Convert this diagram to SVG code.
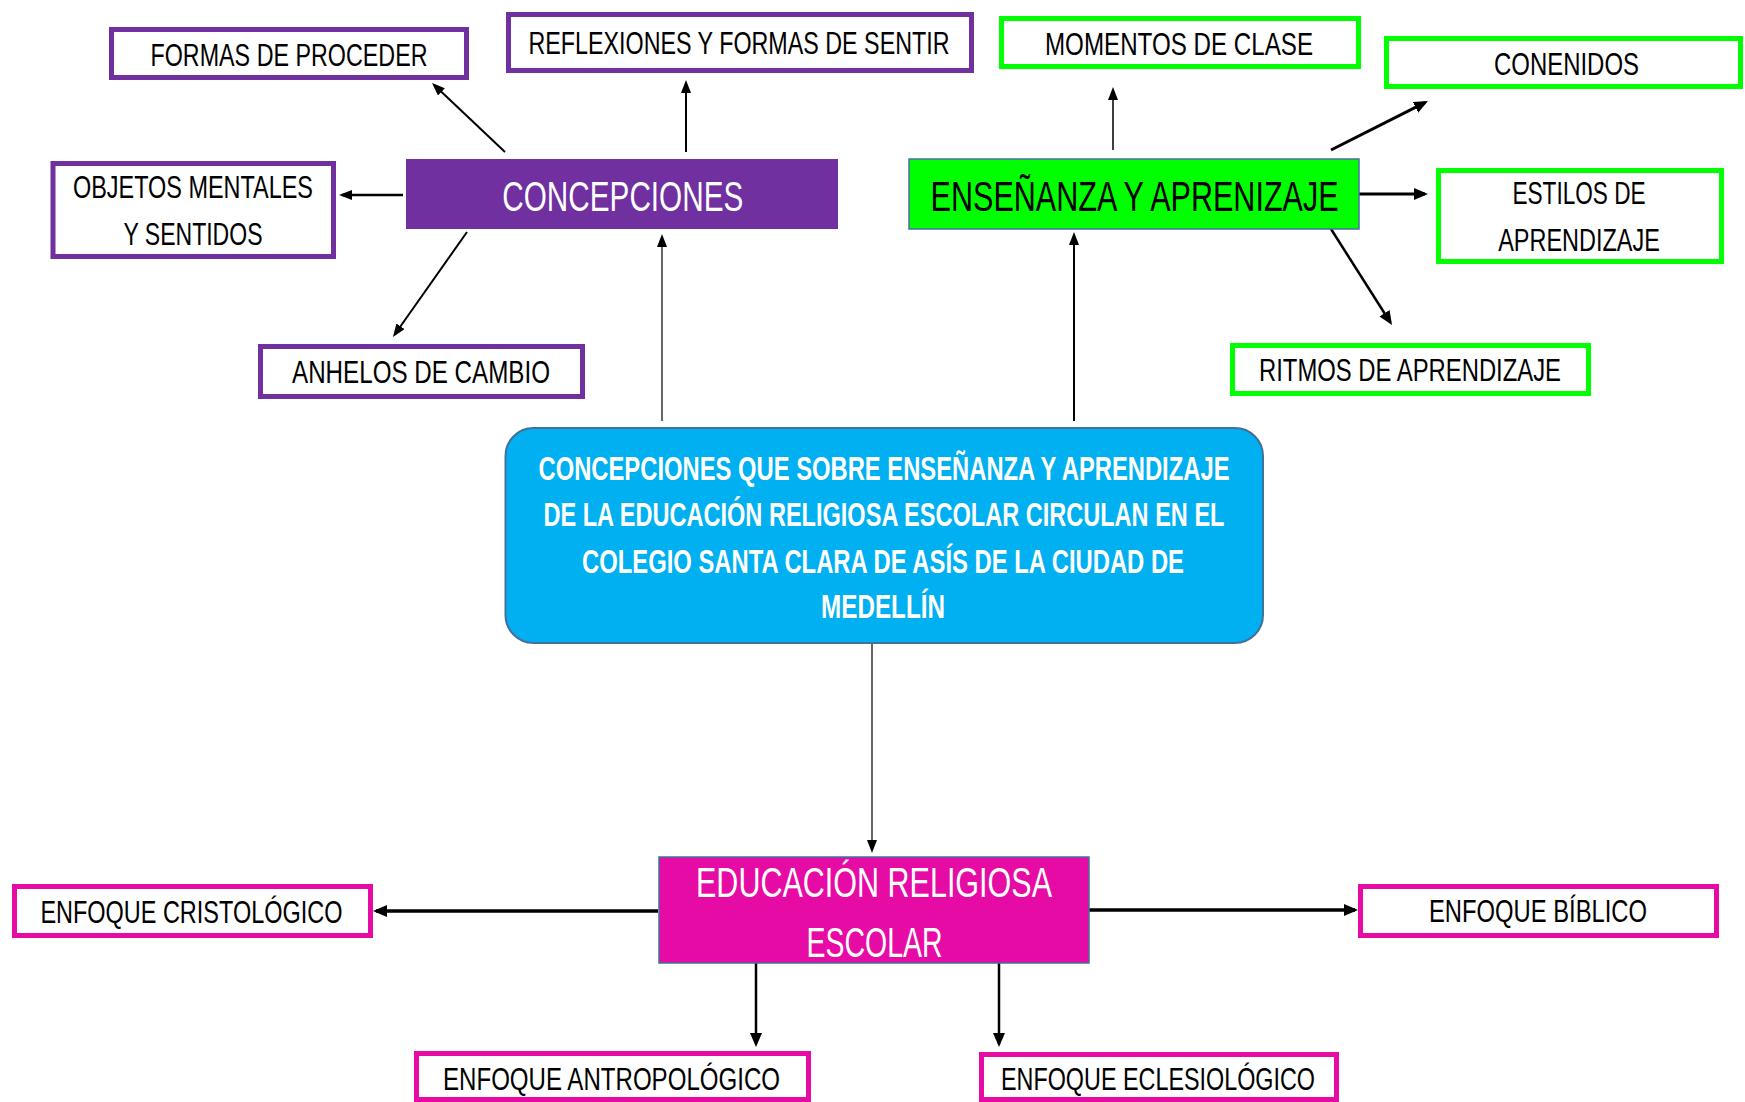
<svg xmlns="http://www.w3.org/2000/svg" width="1745" height="1102" viewBox="0 0 1745 1102">
<style>
.t{font-family:"Liberation Sans",Arial,sans-serif;font-size:32px;fill:#000;text-anchor:middle}
.big{font-family:"Liberation Sans",Arial,sans-serif;font-size:42px;text-anchor:middle}
.ctr{font-family:"Liberation Sans",Arial,sans-serif;font-size:33px;font-weight:bold;fill:#fff;text-anchor:middle}
.pb{fill:#fff;stroke:#7030a0;stroke-width:5}
.gb{fill:#fff;stroke:#00ff00;stroke-width:5}
.kb{fill:#fff;stroke:#e70ba6;stroke-width:5}
.c{stroke:#000;fill:none}
</style>
<defs>
<marker id="ah" viewBox="0 0 14 12" refX="11" refY="6" markerUnits="userSpaceOnUse" markerWidth="14" markerHeight="12" orient="auto"><path d="M0,0 L14,6 L0,12 z" fill="#000"/></marker>
<marker id="as" viewBox="0 0 13 10" refX="10" refY="5" markerUnits="userSpaceOnUse" markerWidth="13" markerHeight="10" orient="auto"><path d="M0,0 L13,5 L0,10 z" fill="#000"/></marker>
</defs>
<g id="connectors">
<line class="c" x1="505" y1="152" x2="434.2" y2="85.1" stroke-width="2" marker-end="url(#as)"/>
<line class="c" x1="686" y1="152" x2="686" y2="83" stroke-width="2" marker-end="url(#as)"/>
<line class="c" x1="403" y1="195" x2="342" y2="195" stroke-width="2.5" marker-end="url(#as)"/>
<line class="c" x1="467" y1="232" x2="394.7" y2="334.5" stroke-width="2" marker-end="url(#as)"/>
<line class="c" x1="662" y1="421" x2="662" y2="237" stroke-width="1.2" marker-end="url(#as)"/>
<line class="c" x1="1074" y1="421" x2="1074" y2="235" stroke-width="2" marker-end="url(#as)"/>
<line class="c" x1="1113" y1="150" x2="1113" y2="90" stroke-width="1.5" marker-end="url(#as)"/>
<line class="c" x1="1331" y1="150" x2="1425.3" y2="102.4" stroke-width="3" marker-end="url(#ah)"/>
<line class="c" x1="1359" y1="194" x2="1425" y2="194" stroke-width="3" marker-end="url(#ah)"/>
<line class="c" x1="1331" y1="229" x2="1390.4" y2="322.5" stroke-width="2.5" marker-end="url(#ah)"/>
<line class="c" x1="872" y1="643" x2="872" y2="850" stroke-width="1.2" marker-end="url(#as)"/>
<line class="c" x1="658" y1="911" x2="376" y2="911" stroke-width="3.5" marker-end="url(#ah)"/>
<line class="c" x1="1089" y1="910" x2="1355" y2="910" stroke-width="3.5" marker-end="url(#ah)"/>
<line class="c" x1="756" y1="963" x2="756" y2="1044" stroke-width="2.5" marker-end="url(#ah)"/>
<line class="c" x1="999" y1="963" x2="999" y2="1044" stroke-width="2.5" marker-end="url(#ah)"/>
</g>
<g id="central">
<rect x="505.5" y="428" width="757.5" height="215" rx="28" fill="#00b0f0" stroke="#41719c" stroke-width="2"/>
<text class="ctr" x="884" y="480" textLength="691" lengthAdjust="spacingAndGlyphs">CONCEPCIONES QUE SOBRE ENSEÑANZA Y APRENDIZAJE</text>
<text class="ctr" x="884" y="526" textLength="681" lengthAdjust="spacingAndGlyphs">DE LA EDUCACIÓN RELIGIOSA ESCOLAR CIRCULAN EN EL</text>
<text class="ctr" x="883" y="573" textLength="602" lengthAdjust="spacingAndGlyphs">COLEGIO SANTA CLARA DE ASÍS DE LA CIUDAD DE</text>
<text class="ctr" x="883" y="618" textLength="124" lengthAdjust="spacingAndGlyphs">MEDELLÍN</text>
</g>
<g id="concepciones">
<rect x="406" y="159" width="432" height="70" fill="#7030a0"/>
<text class="big" x="622.8" y="210.7" fill="#fff" textLength="241" lengthAdjust="spacingAndGlyphs">CONCEPCIONES</text>
</g>
<g id="formas">
<rect class="pb" x="111.5" y="29.5" width="355" height="48"/>
<text class="t" x="289" y="65.5" textLength="277" lengthAdjust="spacingAndGlyphs">FORMAS DE PROCEDER</text>
</g>
<g id="reflexiones">
<rect class="pb" x="508.5" y="14.5" width="463" height="56"/>
<text class="t" x="739" y="54.3" font-size="30" textLength="421" lengthAdjust="spacingAndGlyphs">REFLEXIONES Y FORMAS DE SENTIR</text>
</g>
<g id="objetos">
<rect class="pb" x="53" y="163.5" width="280.5" height="93"/>
<text class="t" x="193" y="198" textLength="240" lengthAdjust="spacingAndGlyphs">OBJETOS MENTALES</text>
<text class="t" x="193" y="245" textLength="139" lengthAdjust="spacingAndGlyphs">Y SENTIDOS</text>
</g>
<g id="anhelos">
<rect class="pb" x="260.5" y="346.5" width="322" height="50"/>
<text class="t" x="421" y="383.3" textLength="258" lengthAdjust="spacingAndGlyphs">ANHELOS DE CAMBIO</text>
</g>
<g id="ensenanza">
<rect x="909" y="159" width="450" height="70" fill="#00ff00" stroke="#4a6fa5" stroke-width="1.5"/>
<text class="big" x="1134.6" y="210.7" fill="#000" textLength="408" lengthAdjust="spacingAndGlyphs">ENSEÑANZA Y APRENIZAJE</text>
</g>
<g id="momentos">
<rect class="gb" x="1001.5" y="18.5" width="357" height="48"/>
<text class="t" x="1179" y="55" font-size="30" textLength="268" lengthAdjust="spacingAndGlyphs">MOMENTOS DE CLASE</text>
</g>
<g id="contenidos">
<rect class="gb" x="1386.5" y="38.5" width="354" height="48"/>
<text class="t" x="1566.5" y="75" textLength="145" lengthAdjust="spacingAndGlyphs">CONENIDOS</text>
</g>
<g id="estilos">
<rect class="gb" x="1438.5" y="170.5" width="283" height="91"/>
<text class="t" x="1579" y="204" textLength="133" lengthAdjust="spacingAndGlyphs">ESTILOS DE</text>
<text class="t" x="1579" y="250.7" textLength="161.6" lengthAdjust="spacingAndGlyphs">APRENDIZAJE</text>
</g>
<g id="ritmos">
<rect class="gb" x="1232.5" y="345.5" width="356" height="48"/>
<text class="t" x="1410" y="381" textLength="302" lengthAdjust="spacingAndGlyphs">RITMOS DE APRENDIZAJE</text>
</g>
<g id="educacion">
<rect x="659" y="857" width="430" height="106" fill="#e70ba6" stroke="#41719c" stroke-width="1.5"/>
<text class="big" x="874" y="896.7" fill="#fff" font-size="43" textLength="356" lengthAdjust="spacingAndGlyphs">EDUCACIÓN RELIGIOSA</text>
<text class="big" x="874.5" y="956.7" fill="#fff" font-size="43" textLength="136" lengthAdjust="spacingAndGlyphs">ESCOLAR</text>
</g>
<g id="cristologico">
<rect class="kb" x="14.5" y="886.5" width="356" height="49"/>
<text class="t" x="191.4" y="923.3" textLength="302" lengthAdjust="spacingAndGlyphs">ENFOQUE CRISTOLÓGICO</text>
</g>
<g id="biblico">
<rect class="kb" x="1360.5" y="886.5" width="356" height="49"/>
<text class="t" x="1538" y="921.7" textLength="218" lengthAdjust="spacingAndGlyphs">ENFOQUE BÍBLICO</text>
</g>
<g id="antropologico">
<rect class="kb" x="416.5" y="1053.5" width="392" height="46"/>
<text class="t" x="611.5" y="1090" textLength="337" lengthAdjust="spacingAndGlyphs">ENFOQUE ANTROPOLÓGICO</text>
</g>
<g id="eclesiologico">
<rect class="kb" x="981.5" y="1054.5" width="355" height="45"/>
<text class="t" x="1158" y="1090" textLength="314" lengthAdjust="spacingAndGlyphs">ENFOQUE ECLESIOLÓGICO</text>
</g>
</svg>
